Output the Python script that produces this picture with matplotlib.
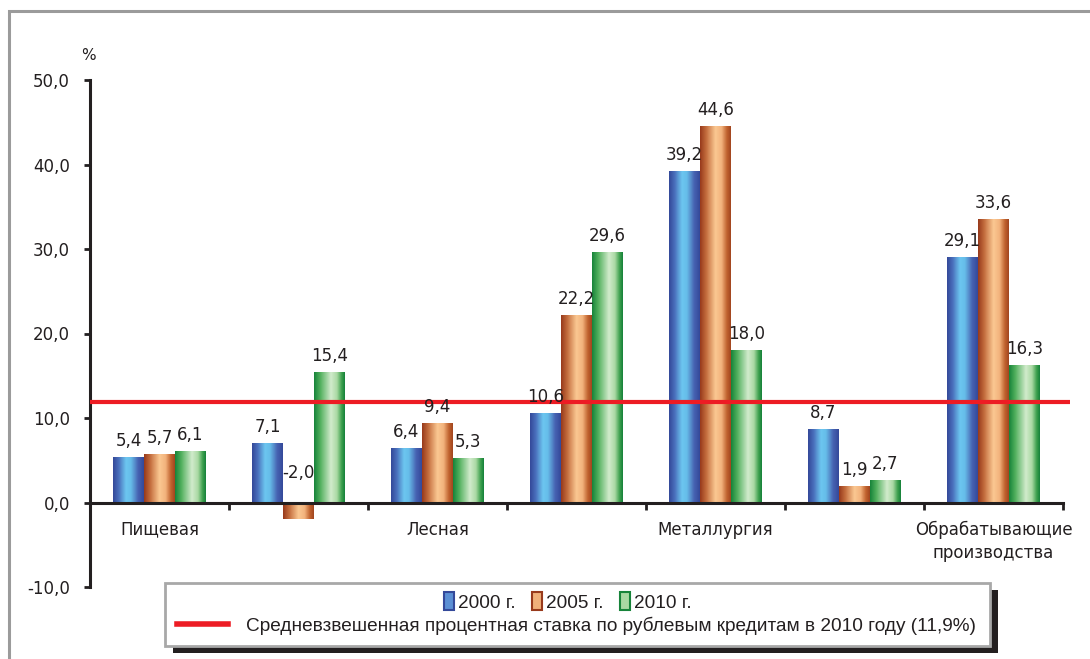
import numpy as np
import matplotlib
matplotlib.use("Agg")
import matplotlib.pyplot as plt
from matplotlib.patches import Rectangle, Patch
from matplotlib.lines import Line2D
from matplotlib.colors import LinearSegmentedColormap

# ---------------- data ----------------
categories = ["Пищевая", "", "Лесная", "", "Металлургия", "",
              "Обрабатывающие\nпроизводства"]
series_names = ["2000 г.", "2005 г.", "2010 г."]
values_2000 = [5.4, 7.1, 6.4, 10.6, 39.2, 8.7, 29.1]
values_2005 = [5.7, -2.0, 9.4, 22.2, 44.6, 1.9, 33.6]
values_2010 = [6.1, 15.4, 5.3, 29.6, 18.0, 2.7, 16.3]
avg_rate = 11.9
avg_label = "Средневзвешенная процентная ставка по рублевым кредитам в 2010 году (11,9%)"
y_ticks = [-10, 0, 10, 20, 30, 40, 50]

series = [values_2000, values_2005, values_2010]

# ---------------- styles ----------------
grad_stops = [
    [(0.0, "#34499a"), (0.18, "#4a6fbc"), (0.42, "#6cc6f0"), (0.58, "#66bde9"),
     (0.82, "#4763b2"), (1.0, "#34499a")],
    [(0.0, "#983a1c"), (0.2, "#c46e3e"), (0.5, "#fbc892"), (0.7, "#f2b27c"),
     (0.88, "#c0622e"), (1.0, "#a2461f")],
    [(0.0, "#17843a"), (0.2, "#52b05e"), (0.55, "#d2ebcc"), (0.75, "#a8d8a2"),
     (0.9, "#3ea04e"), (1.0, "#16833a")],
]
legend_face = ["#5b8fd4", "#f0b07a", "#a8d8a2"]
legend_edge = ["#34499a", "#983a1c", "#17843a"]
axis_color = "#231f20"
text_color = "#231f20"
red = "#ed1c24"

W, H = 1090, 659
fig = plt.figure(figsize=(W / 100, H / 100), dpi=100)
fig.patch.set_facecolor("white")

def fx(px):
    return px / W

def fy(py):
    return 1 - py / H

# outer frame (cropped at right/bottom)
fig.patches.append(Rectangle((fx(9), fy(700)), fx(1200), fy(10.5) - fy(700),
                             transform=fig.transFigure, facecolor="none",
                             edgecolor="#9b9b9b", linewidth=2.2, zorder=0))

ax = fig.add_axes([fx(90), fy(587), fx(1063) - fx(90), fy(80) - fy(587)])
ax.set_facecolor("none")

n = len(categories)
x = np.arange(n)
bw = 0.223
offsets = [-bw, 0, bw]

for i, vals in enumerate(series):
    bars = ax.bar(x + offsets[i], vals, width=bw, color="none",
                  edgecolor="none", zorder=2)
    cmap = LinearSegmentedColormap.from_list(f"g{i}", grad_stops[i])
    grad = np.linspace(0, 1, 64).reshape(1, -1)
    for p in bars.patches:
        x0, y0 = p.get_x(), p.get_y()
        w, h = p.get_width(), p.get_height()
        im = ax.imshow(grad, cmap=cmap, extent=[x0, x0 + w, y0, y0 + h],
                       aspect="auto", interpolation="bilinear", zorder=2)
        im.set_clip_path(p)
    for xi, v in zip(x + offsets[i], vals):
        lab = f"{v:.1f}".replace(".", ",")
        off = 16 if v >= 0 else 30
        ax.annotate(lab, (xi, max(v, 0)), xytext=(0, off * 0.72),
                    textcoords="offset points", ha="center", va="center",
                    fontsize=12, color=text_color, zorder=5,
                    family="DejaVu Sans")

# red average line
ax.plot([-0.5, 6.55], [avg_rate, avg_rate], color=red, lw=3, zorder=4,
        clip_on=False, solid_capstyle="butt")

ax.set_xlim(-0.5, 6.5)
ax.set_ylim(-10, 50)

# spines
for s in ["top", "right"]:
    ax.spines[s].set_visible(False)
ax.spines["left"].set_color(axis_color)
ax.spines["left"].set_linewidth(2.2)
ax.spines["bottom"].set_position(("data", 0))
ax.spines["bottom"].set_color(axis_color)
ax.spines["bottom"].set_linewidth(2.2)
ax.spines["bottom"].set_zorder(3)

ax.set_yticks(y_ticks)
ax.set_yticklabels([f"{t:.1f}".replace(".", ",") for t in y_ticks])
ax.tick_params(axis="y", direction="out", length=4.5, width=2,
               color=axis_color, pad=10, labelsize=12, labelcolor=text_color)

ax.set_xticks(x)
ax.set_xticklabels(categories, linespacing=1.35)
ax.tick_params(axis="x", which="major", length=0, pad=13, labelsize=12,
               labelcolor=text_color)
ax.set_xticks(np.arange(0.5, n, 1), minor=True)
ax.tick_params(axis="x", which="minor", direction="out", length=5, width=2,
               color=axis_color)

fig.text(fx(88), fy(55), "%", ha="center", va="center", fontsize=11,
         color=text_color)

# legend frame with shadow
lx0, ly0, lx1, ly1 = 165, 583, 990, 646
fig.patches.append(Rectangle((fx(lx0 + 8), fy(ly1 + 7)), fx(lx1 - lx0), fy(ly0) - fy(ly1),
                             transform=fig.transFigure, facecolor="#231f20",
                             edgecolor="none", zorder=1))
fig.patches.append(Rectangle((fx(lx0), fy(ly1)), fx(lx1 - lx0), fy(ly0) - fy(ly1),
                             transform=fig.transFigure, facecolor="white",
                             edgecolor="#a8a8a8", linewidth=2, zorder=2))

leg_font = {"family": ["Liberation Sans", "DejaVu Sans"], "size": 13.7}
handles1 = [Patch(facecolor=legend_face[i], edgecolor=legend_edge[i], lw=1.5)
            for i in range(3)]
leg1 = fig.legend(handles1, series_names, loc="center",
                  bbox_to_anchor=(fx(568), fy(602)), ncol=3, frameon=False,
                  prop=leg_font, handlelength=0.5, handleheight=1.0,
                  handletextpad=0.25, columnspacing=0.85, borderpad=0)
handles2 = [Line2D([0], [0], color=red, lw=4)]
leg2 = fig.legend(handles2, [avg_label], loc="center left",
                  bbox_to_anchor=(fx(177), fy(626)), frameon=False,
                  prop=leg_font, handlelength=2.7, handletextpad=0.95,
                  borderpad=0, borderaxespad=0)
for lg in (leg1, leg2):
    lg.set_zorder(5)
    for t in lg.get_texts():
        t.set_color(text_color)

fig.savefig("out.png", dpi=100)
